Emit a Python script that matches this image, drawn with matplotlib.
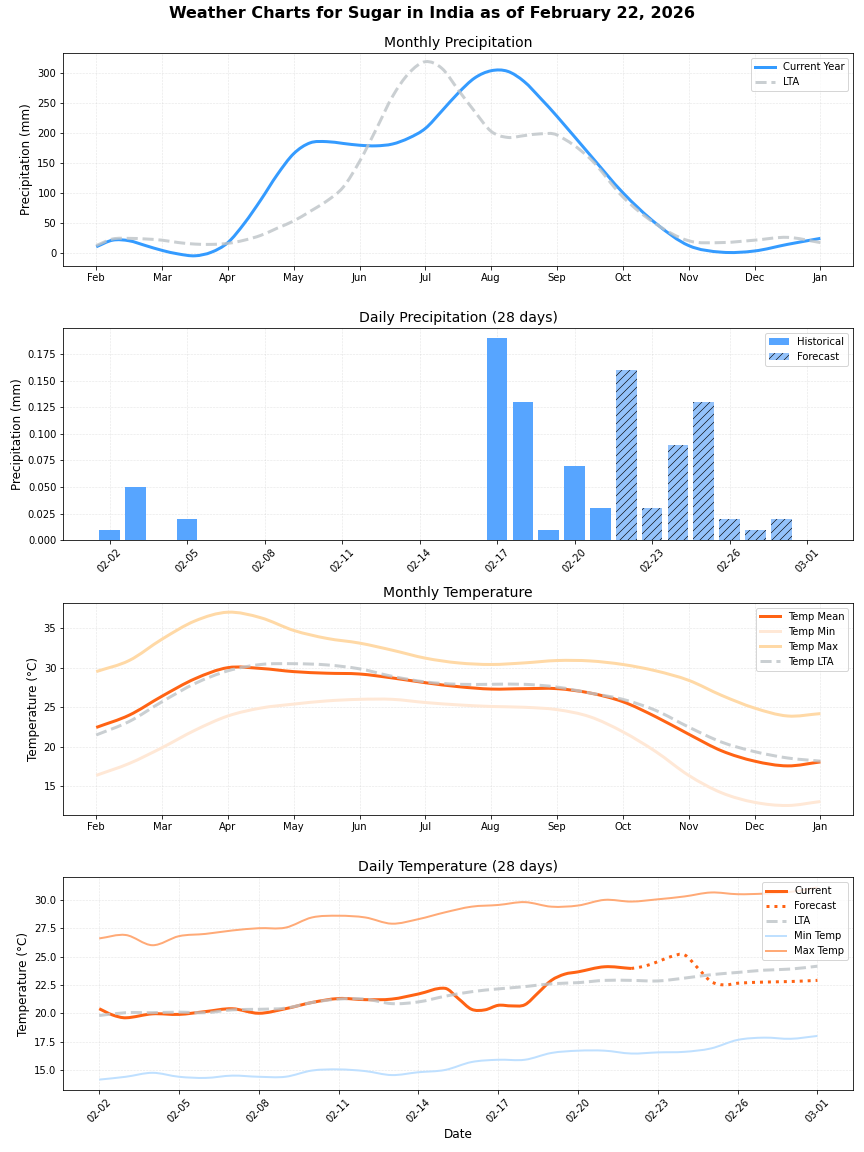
import matplotlib
matplotlib.use('Agg')
import matplotlib.pyplot as plt
from matplotlib.path import Path
from matplotlib.patches import PathPatch

months = ['Feb','Mar','Apr','May','Jun','Jul','Aug','Sep','Oct','Nov','Dec','Jan']
# values, quarter month steps up to Sep where the curves bend most
precip_pos = [0,.25,.5,.75,1,1.25,1.5,1.75,2,2.25,2.5,2.75,3,3.25,3.5,3.75,4,4.25,4.5,4.75,5,5.25,5.5,5.75,6,6.25,6.5,6.75,7,7.5,8,8.5,9,9.5,10,10.5,11]
precip_cur = [11,22,21,13,5,-1,-4,2,18,50,89,131,166,184,186,183,180,179,182,192,208,237,267,292,304,303,286,258,228,164,101,50,13,2,4,15,25]
precip_lta = [13,24,25,24,22,18,15.5,15,16.7,22,30,42,54,70,87,110,153,206,261,300,319,308,272,236,203,193,196,199,197,158,94,49,21,18,22,26.7,18]
month_pos = [i/2 for i in range(23)]
temp_mean = [22.45,24,26.4,28.6,30,29.9,29.5,29.3,29.2,28.7,28.1,27.6,27.3,27.35,27.35,26.8,25.7,23.8,21.6,19.5,18.2,17.6,18.1]
temp_min = [16.4,17.9,19.9,22.1,23.9,24.9,25.4,25.8,26,26,25.6,25.3,25.1,25,24.7,23.8,21.9,19.4,16.4,14.2,13,12.6,13.1]
temp_max = [29.5,30.9,33.6,35.9,37,36.3,34.7,33.7,33.1,32.2,31.2,30.6,30.4,30.6,30.9,30.85,30.4,29.6,28.4,26.5,24.9,23.9,24.2]
temp_lta = [21.5,23.2,25.7,28,29.6,30.4,30.5,30.35,29.85,28.9,28.2,27.9,27.9,27.9,27.55,26.8,26,24.6,22.5,20.6,19.4,18.6,18.2]

day_labels = ['02-02','02-05','02-08','02-11','02-14','02-17','02-20','02-23','02-26','03-01']
days = list(range(28))
hist_days = list(range(20))
rain_hist = [.01,.05,0,.02,0,0,0,0,0,0,0,0,0,0,0,.19,.13,.01,.07,.03]
fc_days = list(range(20,28))
rain_fc = [.16,.03,.09,.13,.02,.01,.02,0]

cur_x = [0,.5,1,2,3,4,5,6,7,8,9,10,11,12,13,13.5,14,14.5,15,15.5,16,16.5,17,17.5,18,19,20]
cur_t = [20.4,19.85,19.6,19.95,19.9,20.15,20.4,20,20.4,20.95,21.3,21.2,21.25,21.7,22.2,21.3,20.35,20.3,20.7,20.65,20.75,21.8,22.9,23.45,23.65,24.1,23.95]
fc_x = [20,20.5,21,21.5,22,22.5,23,23.5,24,25,26,27]
fc_t = [23.95,24.15,24.55,25,25.15,24,22.8,22.5,22.65,22.75,22.8,22.9]
lta_daily = [19.8,20.05,20.05,20.1,20.05,20.3,20.35,20.45,20.95,21.25,21.25,20.85,21,21.5,21.9,22.15,22.35,22.6,22.7,22.9,22.9,22.85,23.1,23.4,23.6,23.8,23.9,24.15]
min_daily = [14.15,14.4,14.75,14.4,14.3,14.5,14.4,14.4,14.95,15.05,14.9,14.55,14.8,15,15.7,15.9,15.9,16.5,16.7,16.7,16.45,16.55,16.6,16.9,17.65,17.85,17.75,18]
max_daily = [26.6,26.9,26,26.8,27,27.3,27.5,27.55,28.45,28.6,28.45,27.9,28.3,28.9,29.4,29.55,29.8,29.4,29.5,30,29.85,30.05,30.3,30.65,30.5,30.55,30.7,31.1]

BLUE = '#1E90FF'
ORANGE = '#FF6314'
GREY = '#BDC3C7'

plt.rcParams['hatch.linewidth'] = 0.6

def curve(ax, x, y, label, color, lw=3, ls='-', alpha=1):
    # smooth bezier through the readings, empty line is just for the legend
    ax.plot([], [], color=color, lw=lw, ls=ls, alpha=alpha, label=label)
    n = len(x)
    slope = []
    for i in range(n):
        a, b = max(i-1, 0), min(i+1, n-1)
        slope.append((y[b]-y[a])/(x[b]-x[a]))
    verts = [(x[0], y[0])]
    codes = [Path.MOVETO]
    for i in range(n-1):
        h = (x[i+1]-x[i])/3
        verts += [(x[i]+h, y[i]+h*slope[i]), (x[i+1]-h, y[i+1]-h*slope[i+1]), (x[i+1], y[i+1])]
        codes += [Path.CURVE4]*3
    ax.add_patch(PathPatch(Path(verts, codes), fill=False, edgecolor=color, lw=lw, ls=ls, alpha=alpha, zorder=2))

fig, axes = plt.subplots(4, 1, figsize=(12, 16), dpi=72)
fig.subplots_adjust(left=63.3/864, right=853.3/864, top=1-53.3/1152, bottom=1-1089.7/1152, hspace=0.294)
fig.suptitle('Weather Charts for Sugar in India as of February 22, 2026', fontsize=16, fontweight='bold', y=0.9946)

ax = axes[0]
curve(ax, precip_pos, precip_cur, 'Current Year', BLUE, alpha=0.9)
curve(ax, precip_pos, precip_lta, 'LTA', GREY, ls='--', alpha=0.8)
ax.set_title('Monthly Precipitation', fontsize=14)
ax.set_ylabel('Precipitation (mm)', fontsize=12)
ax.set_xticks(range(12))
ax.set_xticklabels(months)
ax.set_xlim(-0.5, 11.5)
ax.set_ylim(-20.3, 333)
ax.legend(loc='upper right')

ax = axes[1]
ax.bar(hist_days, rain_hist, color='#57A5FF', label='Historical')
ax.bar(fc_days, rain_fc, color='#93C2FB', hatch='///', edgecolor='black', linewidth=0, label='Forecast')
ax.set_title('Daily Precipitation (28 days)', fontsize=14)
ax.set_ylabel('Precipitation (mm)', fontsize=12)
ax.set_xticks(days[::3])
ax.set_xticklabels(day_labels, rotation=45)
ax.legend(loc='upper right')

ax = axes[2]
curve(ax, month_pos, temp_mean, 'Temp Mean', ORANGE)
curve(ax, month_pos, temp_min, 'Temp Min', '#FFE8D6')
curve(ax, month_pos, temp_max, 'Temp Max', '#FFD9A6')
curve(ax, month_pos, temp_lta, 'Temp LTA', GREY, ls='--', alpha=0.8)
ax.set_title('Monthly Temperature', fontsize=14)
ax.set_ylabel('Temperature (°C)', fontsize=12)
ax.set_xticks(range(12))
ax.set_xticklabels(months)
ax.set_xlim(-0.5, 11.5)
ax.set_ylim(11.4, 38.2)
ax.set_yticks([15, 20, 25, 30, 35])
ax.legend(loc='upper right')

ax = axes[3]
curve(ax, cur_x, cur_t, 'Current', ORANGE)
curve(ax, fc_x, fc_t, 'Forecast', ORANGE, ls=':')
curve(ax, days, lta_daily, 'LTA', GREY, ls='--', alpha=0.8)
curve(ax, days, min_daily, 'Min Temp', '#BFE0FF', lw=2)
curve(ax, days, max_daily, 'Max Temp', '#FFAA77', lw=2)
ax.set_title('Daily Temperature (28 days)', fontsize=14)
ax.set_ylabel('Temperature (°C)', fontsize=12)
ax.set_xlabel('Date', fontsize=12)
ax.set_xticks(days[::3])
ax.set_xticklabels(day_labels, rotation=45)
ax.set_xlim(-1.35, 28.35)
ax.set_ylim(13.26, 31.98)
ax.legend(loc='upper right')

for ax in axes:
    ax.grid(True, alpha=0.3, ls='--', lw=0.6)
    ax.set_axisbelow(True)

fig.savefig('out.png', dpi=72)
